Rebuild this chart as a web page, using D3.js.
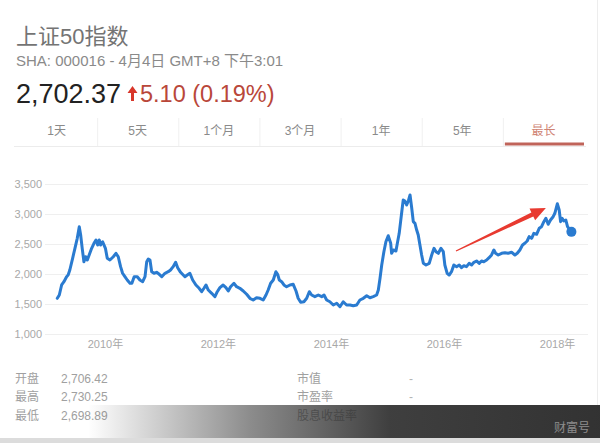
<!DOCTYPE html>
<html>
<head>
<meta charset="utf-8">
<script src="https://cdn.jsdelivr.net/npm/d3@7/dist/d3.min.js"></script>
<style>
  html, body { margin: 0; padding: 0; background: #fff; }
  svg { display: block; }
  text { font-family: "Liberation Sans", Arial, "Noto Sans CJK SC", sans-serif; }
</style>
</head>
<body>
<svg id="chart" width="600" height="443"></svg>
<script>
// SSE 50 index, long-range closing levels
const dates = [
  "2009-02-27","2009-03-12","2009-03-27","2009-04-11","2009-04-28","2009-05-08","2009-05-19","2009-06-06",
  "2009-06-21","2009-07-06","2009-07-19","2009-07-28","2009-08-07","2009-08-18","2009-08-29","2009-09-09",
  "2009-09-21","2009-10-07","2009-10-22","2009-11-04","2009-11-15","2009-11-25","2009-12-04","2009-12-17",
  "2010-01-04","2010-01-16","2010-02-02","2010-02-24","2010-03-13","2010-03-28","2010-04-12","2010-04-25",
  "2010-05-10","2010-05-25","2010-06-12","2010-06-24","2010-07-09","2010-07-29","2010-08-15","2010-09-02",
  "2010-09-17","2010-09-28","2010-10-08","2010-10-19","2010-10-30","2010-11-14","2010-12-01","2010-12-18",
  "2011-01-03","2011-01-24","2011-02-14","2011-03-01","2011-03-18","2011-04-03","2011-04-16","2011-05-05",
  "2011-06-02","2011-06-17","2011-07-04","2011-07-22","2011-08-12","2011-09-02","2011-09-18","2011-10-03",
  "2011-10-16","2011-10-31","2011-11-22","2011-12-13","2011-12-28","2012-01-14","2012-02-04","2012-02-22",
  "2012-03-08","2012-03-23","2012-04-14","2012-05-01","2012-05-22","2012-06-13","2012-07-05","2012-07-26",
  "2012-08-16","2012-09-07","2012-09-29","2012-10-20","2012-11-07","2012-11-21","2012-12-07","2012-12-24",
  "2013-01-10","2013-01-21","2013-02-01","2013-02-16","2013-03-03","2013-03-20","2013-04-11","2013-05-02",
  "2013-05-20","2013-06-03","2013-06-19","2013-07-10","2013-07-28","2013-08-14","2013-08-29","2013-09-19",
  "2013-10-11","2013-11-02","2013-11-17","2013-12-04","2013-12-25","2014-01-16","2014-02-07","2014-02-28",
  "2014-03-21","2014-04-12","2014-05-04","2014-05-25","2014-06-16","2014-07-07","2014-07-29","2014-08-20",
  "2014-09-10","2014-10-01","2014-10-23","2014-11-03","2014-11-14","2014-11-25","2014-12-09","2014-12-22",
  "2015-01-06","2015-01-22","2015-01-28","2015-02-08","2015-02-25","2015-03-06","2015-03-18","2015-03-27",
  "2015-04-05","2015-04-13","2015-04-24","2015-05-05","2015-05-16","2015-05-27","2015-06-07","2015-06-17",
  "2015-06-28","2015-07-09","2015-07-19","2015-07-30","2015-08-10","2015-08-21","2015-09-07","2015-09-28",
  "2015-10-14","2015-10-29","2015-11-11","2015-11-26","2015-12-13","2015-12-28","2016-01-07","2016-01-22",
  "2016-02-04","2016-02-19","2016-03-05","2016-03-23","2016-04-09","2016-04-24","2016-05-09","2016-05-26",
  "2016-06-12","2016-06-28","2016-07-13","2016-07-30","2016-08-16","2016-08-31","2016-09-15","2016-10-03",
  "2016-10-19","2016-11-04","2016-11-19","2016-11-30","2016-12-17","2017-01-08","2017-01-29","2017-02-19",
  "2017-03-13","2017-04-04","2017-04-19","2017-05-06","2017-05-23","2017-06-07","2017-06-22","2017-07-05",
  "2017-07-21","2017-08-04","2017-08-22","2017-09-08","2017-09-23","2017-10-08","2017-10-21","2017-11-05",
  "2017-11-20","2017-12-07","2017-12-18","2018-01-03","2018-01-15","2018-01-24","2018-02-03","2018-02-14",
  "2018-02-27","2018-03-10","2018-04-04"
];
const closes = [
  1595,1650,1817,1872,1955,1983,2067,2262,
  2428,2595,2788,2650,2428,2205,2288,2233,
  2317,2428,2512,2567,2483,2567,2483,2538,
  2428,2262,2233,2288,2345,2288,2122,2012,
  1955,1900,1845,1845,1955,1955,1900,1872,
  1955,2205,2250,2233,2038,2012,2028,1995,
  1955,2012,2038,2067,2122,2195,2105,2028,
  1955,1983,2012,1900,1817,1762,1705,1762,
  1817,1733,1678,1622,1705,1772,1817,1772,
  1717,1788,1845,1788,1762,1717,1662,1595,
  1567,1605,1595,1567,1650,1733,1845,1900,
  2038,1995,1900,1872,1817,1788,1817,1828,
  1717,1595,1528,1538,1595,1705,1650,1622,
  1650,1622,1650,1567,1538,1483,1512,1455,
  1538,1483,1483,1472,1483,1567,1595,1638,
  1605,1622,1650,1733,1928,2150,2372,2538,
  2638,2512,2345,2400,2383,2512,2678,2872,
  3067,3233,3217,3150,3217,3317,3095,2872,
  2845,2733,2650,2483,2317,2178,2150,2178,
  2317,2428,2372,2345,2428,2372,2150,2012,
  1983,2038,2150,2122,2150,2105,2138,2122,
  2178,2150,2195,2217,2178,2217,2205,2233,
  2272,2317,2400,2345,2317,2345,2355,2345,
  2362,2317,2345,2400,2483,2512,2550,2622,
  2595,2678,2662,2762,2788,2872,2928,2828,
  2900,2955,3012,3170,3067,2872,2928,2883,
  2900,2788,2702.37
];

const yTicks = [1000, 1500, 2000, 2500, 3000, 3500];
const xTickYears = ["2010-01-01", "2012-01-01", "2014-01-01", "2016-01-01", "2018-01-01"];
const tabs = ["1天", "5天", "1个月", "3个月", "1年", "5年", "最长"];
const activeTab = "最长";

const statLabelsLeft = ["开盘", "最高", "最低"];
const statValuesLeft = ["2,706.42", "2,730.25", "2,698.89"];
const statLabelsRight = ["市值", "市盈率", "股息收益率"];
const statValuesRight = ["-", "-", ""];

// trend annotation: start and end of the red arrow
const trendFrom = { date: "2016-03-19", value: 2383 };
const trendTo = { date: "2017-10-21", value: 3100 };

const parse = d3.timeParse("%Y-%m-%d");
const series = dates.map((d, i) => ({ date: parse(d), value: closes[i] }));

const svg = d3.select("#chart");

// ---------- header ----------
svg.append("text").attr("x", 16).attr("y", 44)
  .attr("font-size", 22).attr("fill", "#747474").text("上证50指数");
svg.append("text").attr("x", 16).attr("y", 66)
  .attr("font-size", 15).attr("fill", "#8a8a8a").text("SHA: 000016 - 4月4日 GMT+8 下午3:01");
svg.append("text").attr("x", 16).attr("y", 103)
  .attr("font-size", 27).attr("fill", "#222").text("2,702.37");
// up arrow before the change
svg.append("path")
  .attr("d", "M127.5,93 L132.5,86 L137.5,93 L134,93 L134,101 L131,101 L131,93 Z")
  .attr("fill", "#d8362a");
svg.append("text").attr("x", 140).attr("y", 102)
  .attr("font-size", 23.5).attr("fill", "#b9473a").text("5.10 (0.19%)");

// ---------- range tabs ----------
const tabX = d3.scaleBand().domain(tabs).range([16, 584]);
const tabG = svg.append("g");
tabG.append("line").attr("x1", 14).attr("x2", 586).attr("y1", 146.5).attr("y2", 146.5)
  .attr("stroke", "#ececec");
tabs.forEach((t, i) => {
  if (i > 0) {
    tabG.append("line")
      .attr("x1", tabX(t) + 0.5).attr("x2", tabX(t) + 0.5)
      .attr("y1", 118).attr("y2", 146).attr("stroke", "#f0f0f0");
  }
  tabG.append("text")
    .attr("x", tabX(t) + tabX.bandwidth() / 2).attr("y", 135)
    .attr("text-anchor", "middle").attr("font-size", 12)
    .attr("fill", t === activeTab ? "#cf8474" : "#8a8a8a").text(t);
});
tabG.append("rect")
  .attr("x", tabX(activeTab) + 2).attr("y", 142.5)
  .attr("width", tabX.bandwidth() - 2).attr("height", 3)
  .attr("fill", "#c0645a");

// ---------- chart ----------
const x = d3.scaleTime()
  .domain([parse(dates[0]), parse(dates[dates.length - 1])])
  .range([57.3, 571.4]);
const y = d3.scaleLinear().domain([1000, 3500]).range([334, 184]);

const grid = svg.append("g");
yTicks.forEach(v => {
  grid.append("line")
    .attr("x1", 45).attr("x2", 588)
    .attr("y1", Math.round(y(v)) + 0.5).attr("y2", Math.round(y(v)) + 0.5)
    .attr("stroke", "#efefef");
});

const yAxis = d3.axisLeft(y).tickValues(yTicks).tickSize(0).tickPadding(0)
  .tickFormat(d3.format(","));
svg.append("g").attr("transform", "translate(42,0)").call(yAxis)
  .call(g => g.select(".domain").remove())
  .call(g => g.selectAll("text").attr("font-size", 11).attr("fill", "#a8a8a8")
    .attr("font-family", "Liberation Sans, Arial, sans-serif"));

const xAxis = d3.axisBottom(x).tickValues(xTickYears.map(parse)).tickSize(0).tickPadding(0)
  .tickFormat(d3.timeFormat("%Y年"));
svg.append("g").attr("transform", "translate(0,340)").call(xAxis)
  .call(g => g.select(".domain").remove())
  .call(g => g.selectAll("text").attr("font-size", 11).attr("fill", "#a8a8a8")
    .attr("font-family", "Liberation Sans, Arial, Noto Sans CJK SC, sans-serif"));

const line = d3.line().x(d => x(d.date)).y(d => y(d.value));
svg.append("path").datum(series)
  .attr("d", line).attr("fill", "none")
  .attr("stroke", "#2a7bd0").attr("stroke-width", 3)
  .attr("stroke-linejoin", "round").attr("stroke-linecap", "round");

const last = series[series.length - 1];
svg.append("circle").attr("cx", x(last.date)).attr("cy", y(last.value)).attr("r", 5)
  .attr("fill", "#2a7bd0");

// red trend arrow
{
  const x0 = x(parse(trendFrom.date)), y0 = y(trendFrom.value);
  const x1 = x(parse(trendTo.date)), y1 = y(trendTo.value);
  const dx = x1 - x0, dy = y1 - y0, len = Math.hypot(dx, dy);
  const ux = dx / len, uy = dy / len, nx = -uy, ny = ux;
  const headLen = 15, headW = 6.5, tailW = 0.6, neckW = 2.2;
  const bx = x1 - ux * headLen, by = y1 - uy * headLen;
  const pts = [
    [x0 + nx * tailW, y0 + ny * tailW],
    [bx + nx * neckW, by + ny * neckW],
    [bx + nx * headW, by + ny * headW],
    [x1, y1],
    [bx - nx * headW, by - ny * headW],
    [bx - nx * neckW, by - ny * neckW],
    [x0 - nx * tailW, y0 - ny * tailW]
  ];
  svg.append("path").attr("d", "M" + pts.map(p => p.join(",")).join("L") + "Z")
    .attr("fill", "#e83a30");
}

// ---------- key stats ----------
const rowY = [383, 401, 420];
statLabelsLeft.forEach((t, i) => {
  svg.append("text").attr("x", 15).attr("y", rowY[i]).attr("font-size", 12).attr("fill", "#a0a0a0").text(t);
  svg.append("text").attr("x", 61).attr("y", rowY[i]).attr("font-size", 12).attr("fill", "#a0a0a0").text(statValuesLeft[i]);
  svg.append("text").attr("x", 297).attr("y", rowY[i]).attr("font-size", 12).attr("fill", "#a0a0a0").text(statLabelsRight[i]);
  svg.append("text").attr("x", 409).attr("y", rowY[i]).attr("font-size", 12).attr("fill", "#b4b4b4").text(statValuesRight[i]);
});

// bottom caption band
const defs = svg.append("defs");
const grad = defs.append("linearGradient").attr("id", "band")
  .attr("x1", 0).attr("x2", 600).attr("y1", 0).attr("y2", 0).attr("gradientUnits", "userSpaceOnUse");
grad.append("stop").attr("offset", 88 / 600).attr("stop-color", "#2e2e2e").attr("stop-opacity", 0);
grad.append("stop").attr("offset", 250 / 600).attr("stop-color", "#2e2e2e").attr("stop-opacity", 0.55);
grad.append("stop").attr("offset", 390 / 600).attr("stop-color", "#2e2e2e").attr("stop-opacity", 0.92);
grad.append("stop").attr("offset", 1).attr("stop-color", "#2a2a2a").attr("stop-opacity", 0.96);
svg.append("rect").attr("x", 0).attr("y", 405).attr("width", 600).attr("height", 33).attr("fill", "url(#band)");
svg.append("rect").attr("x", 0).attr("y", 438).attr("width", 600).attr("height", 5).attr("fill", "#dcdcdc");
svg.append("text").attr("x", 590).attr("y", 432).attr("text-anchor", "end")
  .attr("font-size", 12).attr("fill", "#8c8c8c").text("财富号");

// card edge
svg.append("line").attr("x1", 597.5).attr("x2", 597.5).attr("y1", 0).attr("y2", 405).attr("stroke", "#ededed");
</script>
</body>
</html>
